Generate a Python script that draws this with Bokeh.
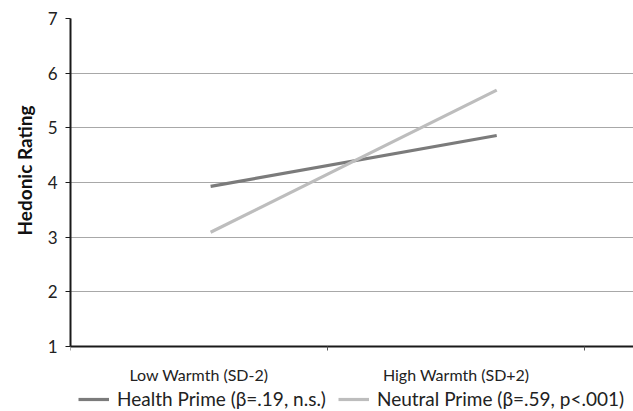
from bokeh.plotting import figure
from bokeh.models import (Range1d, FixedTicker, Legend, LegendItem, Title)
from bokeh.embed import file_html
from bokeh.resources import INLINE

# Data
categories = ["Low Warmth (SD-2)", "High Warmth (SD+2)"]
category_pos = [0.5, 1.5]
category_bounds = [0, 1, 2]
line_x = [0.545, 1.658]
health = [3.93, 4.86]
neutral = [3.09, 5.69]
series_names = ["Health Prime (\u03b2=.19, n.s.)", "Neutral Prime (\u03b2=.59, p<.001)"]
y_ticks = [1, 2, 3, 4, 5, 6, 7]
y_min, y_max = 1, 7
y_label = "Hedonic Rating"

FONT = "Lato"

# frame: y_max..y_min spans 328 px; frame extends further down to hold the legend
px_per_unit = 328 / (y_max - y_min)
frame_h = 392
y_start = y_min - (frame_h - 328) / px_per_unit

p = figure(frame_width=563, frame_height=frame_h, output_backend="svg", toolbar_location=None,
           x_range=Range1d(0, 2.19), y_range=Range1d(y_start, y_max))
p.min_border_left = 70
p.min_border_right = 0
p.min_border_top = 18
p.min_border_bottom = 0
p.outline_line_color = None
p.background_fill_color = "white"

# grid
p.xgrid.grid_line_color = None
p.ygrid.ticker = FixedTicker(ticks=y_ticks)
p.ygrid.grid_line_color = "#a8a8a8"
p.ygrid.grid_line_width = 1.2

# y axis
ya = p.yaxis[0]
ya.ticker = FixedTicker(ticks=y_ticks)
ya.bounds = (y_min, y_max)
ya.axis_line_color = "#1a1a1a"
ya.axis_line_width = 2
ya.major_tick_line_color = "#1a1a1a"
ya.major_tick_out = 5
ya.major_tick_in = 0
ya.minor_tick_line_color = None
ya.major_label_text_font = FONT
ya.major_label_text_font_size = "17px"
ya.major_label_text_color = "#222222"
ya.major_label_standoff = 8

# y axis title, placed against the 1..7 span
ytitle = Title(text=y_label, align="right", vertical_align="bottom", offset=87,
               standoff=18, text_font=FONT, text_font_style="bold",
               text_font_size="19px", text_color="#111111")
p.add_layout(ytitle, "left")

# x axis, drawn at y = 1
xa = p.xaxis[0]
xa.fixed_location = y_min
xa.ticker = FixedTicker(ticks=category_pos, minor_ticks=category_bounds)
xa.major_label_overrides = {pos: lab for pos, lab in zip(category_pos, categories)}
xa.axis_line_color = "#1a1a1a"
xa.axis_line_width = 2
xa.major_tick_line_color = None
xa.major_tick_out = 0
xa.major_tick_in = 0
xa.minor_tick_line_color = "#555555"
xa.minor_tick_out = 4
xa.minor_tick_in = 0
xa.major_label_text_font = FONT
xa.major_label_text_font_size = "16px"
xa.major_label_text_color = "#222222"
xa.major_label_standoff = 14

r1 = p.line(line_x, health, line_color="#7b7b7b", line_width=3.2)
r2 = p.line(line_x, neutral, line_color="#bdbdbd", line_width=3.2)

legend = Legend(items=[LegendItem(label=series_names[0], renderers=[r1]),
                       LegendItem(label=series_names[1], renderers=[r2])],
                orientation="horizontal", location=(8, 0))
legend.label_text_font = FONT
legend.label_text_font_size = "19px"
legend.label_text_color = "#222222"
legend.glyph_width = 31
legend.glyph_height = 20
legend.label_standoff = 8
legend.spacing = 12
legend.padding = 0
legend.margin = 0
legend.border_line_color = None
legend.background_fill_alpha = 0
p.add_layout(legend)

open("out.html", "w").write(file_html(p, INLINE))
